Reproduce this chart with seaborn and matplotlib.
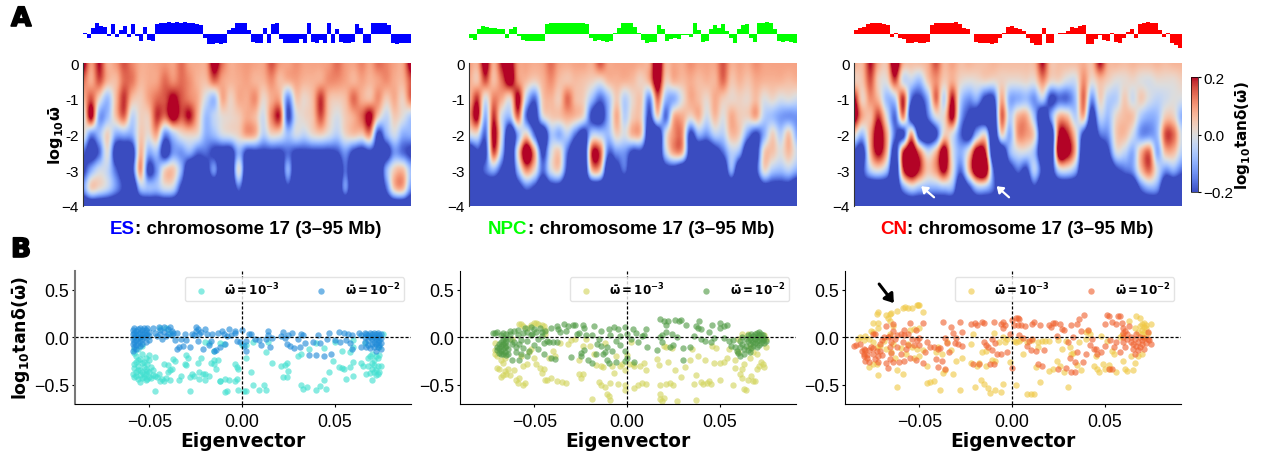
import numpy as np
import matplotlib
matplotlib.use('Agg')
import matplotlib.pyplot as plt
import matplotlib.patheffects as pe
import seaborn as sns

W, H = 1261, 452

# heatmap values in hundredths of log10 tan delta, rows go 0, -0.5, ... -4, 41 columns along the chromosome
# the colour scale clips at +-20, so saturated cells are only estimates
es_grid = [
    [24,10,20,8,10,16,12,8,8,9,10,9,14,9,8,9,24,14,8,9,10,9,9,16,10,9,11,9,9,9,10,14,10,9,12,9,14,12,9,9,24],
    [14,8,16,7,6,14,13,7,8,9,14,11,14,11,7,6,14,9,7,8,9,7,7,11,6,7,9,7,7,8,11,11,9,7,9,7,9,11,8,7,16],
    [6,16,2,-8,6,18,6,4,9,14,16,22,16,12,8,-2,-8,8,3,8,8,11,2,8,8,-14,4,2,6,18,6,4,6,14,8,6,11,4,8,3,14],
    [-3,22,-11,-8,5,14,-4,3,4,18,14,24,16,20,7,-8,-4,1,2,4,8,6,-2,12,18,-20,-2,2,5,16,4,-1,4,8,14,22,4,-4,4,0,-6],
    [2,-14,-8,3,-10,-10,-10,4,1,8,-14,-6,1,3,1,-10,-8,-2,0,3,9,7,-5,2,1,-8,-2,-4,1,3,-1,-5,2,5,4,10,-22,-10,-2,-10,-10],
    [-17,-26,-17,0,-26,-30,-26,7,-10,-8,-26,-13,-13,-10,-17,-17,-22,-26,-26,-10,-22,-22,-22,-22,-22,-17,-22,-22,-22,-22,-22,-20,-13,-22,-26,-22,-26,-26,-13,-17,-22],
    [-22,-10,-2,-4,-17,-26,-22,10,-22,-13,3,5,-10,-32,-32,-26,-13,-32,-32,0,-32,-32,-32,-32,-32,-10,-32,-32,-32,-32,-32,-32,-17,-32,-32,-32,-32,-10,4,6,-8],
    [-13,3,1,-4,-13,-22,-32,-8,-8,-8,-2,-4,-22,-32,-32,-32,-32,-32,-32,-17,-32,-32,-32,-32,-32,-22,-32,-32,-32,-32,-32,-32,-13,-32,-22,-32,-32,-17,5,7,-13],
    [-32]*41,
]
npc_grid = [
    [10,8,24,8,20,24,10,9,8,9,14,9,8,9,9,8,16,9,9,9,9,8,9,28,8,9,8,11,9,9,9,16,8,9,8,11,9,9,9,9,9],
    [8,5,16,6,14,24,11,6,3,7,11,6,5,6,5,3,1,6,7,7,6,3,8,26,4,7,6,8,6,7,7,14,5,7,5,8,7,7,7,6,7],
    [6,18,-1,12,8,2,22,-5,-17,4,7,4,14,6,3,-8,-17,-8,4,-5,2,4,-14,14,-8,-10,0,8,6,2,8,4,2,3,2,6,0,2,-1,0,-2],
    [9,22,-10,18,-2,-8,14,-17,-26,-2,4,5,8,6,0,-22,-26,-10,8,-5,4,3,-22,2,-17,7,8,2,7,-2,6,0,8,4,3,8,-5,-8,-12,-13,-13],
    [-2,0,-17,22,-2,-32,-10,3,-17,-32,-8,-10,-5,-17,-26,-5,-5,-8,3,-1,7,4,-32,-32,-2,11,11,-22,-10,-13,-5,-5,6,3,-13,-22,-10,3,-5,5,-10],
    [-32,-22,-22,16,-8,-32,2,28,9,-22,-2,4,-17,-32,-32,18,16,-17,-13,-13,-22,-22,-32,-32,-5,9,7,-26,-32,-32,-26,-17,-5,-10,-32,-26,3,5,0,6,-2],
    [-32,-26,-17,-10,-22,-32,-8,11,2,-17,-2,2,-22,-32,-32,6,5,-32,-26,-17,-32,-32,-32,-32,-26,-26,-32,-32,-32,-32,-32,-32,-10,-32,-32,-22,1,-6,-8,-5,-10],
    [-32,-32,-32,-32,-32,-32,-26,-17,-22,-32,-26,-26,-32,-32,-32,-32,-32,-32,-32,-32,-32,-32,-32,-32,-32,-32,-32,-32,-32,-32,-32,-32,-32,-32,-32,-32,-26,-26,-26,-26,-32],
    [-32]*41,
]
cn_grid = [
    [8,7,20,8,6,28,8,6,6,8,16,7,9,6,7,6,6,7,6,6,6,6,7,20,6,6,6,6,8,6,20,8,7,6,7,6,6,7,6,7,7],
    [4,5,16,3,1,16,-2,-4,-8,4,11,4,8,2,0,1,2,1,3,1,1,2,1,11,2,2,-2,-2,11,1,6,3,0,1,2,0,-1,1,1,1,3],
    [22,3,11,6,-8,-5,18,-17,-22,-10,14,-4,20,-5,-13,-10,-22,-22,8,-10,-10,-8,-13,-5,-22,-17,-17,-8,14,-13,3,-5,-5,4,-2,4,-1,-4,-2,0,-1],
    [26,9,6,18,0,-17,11,-26,-32,-17,-1,2,22,-10,-22,-26,-32,-32,14,-5,7,8,-8,-32,-13,7,6,-5,7,-26,-5,-8,2,6,5,-6,-10,-8,4,3,-10],
    [3,-8,9,26,9,-17,-22,9,-26,-32,-22,3,-1,-17,-26,-8,0,-32,2,-10,10,10,2,-32,-32,20,20,4,-22,-32,-17,-13,4,6,-2,-13,-13,-8,16,14,-2],
    [-22,-26,7,22,7,-26,18,30,13,-2,7,26,0,-10,2,26,20,-32,-32,-10,-2,-2,-8,-32,-32,26,24,7,-32,-32,-32,-22,-2,-4,-10,7,14,-10,6,6,-5],
    [-32,-22,-5,0,-8,-32,16,30,18,5,10,22,1,-17,6,30,30,-17,-32,-26,-17,-22,-5,-22,-26,-4,-2,-10,-32,-22,-32,-32,-22,-17,-13,5,14,-2,-13,-10,-17],
    [-32,-26,-32,-32,-32,-32,-13,-4,-8,-10,-10,-8,-10,-32,-22,-8,-8,-17,-32,-32,-32,-32,-22,-32,-32,-32,-32,-32,-32,-32,-32,-32,-32,-32,-32,-17,-10,-13,-32,-32,-32],
    [-32]*41,
]
freq_ticks = [0, -1, -2, -3, -4]
freq_labels = ['0', '-1', '-2', '-3', '\u22124']

# eigenvector tracks above the heatmaps (thousandths)
es_track = [10,-25,35,68,50,45,-12,60,-15,25,50,-15,60,-8,-40,45,-35,-40,62,68,70,72,70,72,70,72,68,70,62,55,-25,-58,-58,-55,-58,-52,25,35,70,70,68,25,-45,-55,-55,40,-55,60,70,-30,-55,-55,-50,-50,-30,-55,70,-45,-55,-35,-55,70,-50,30,-45,-55,-50,-45,60,40,-50,-55,65,70,68,70,55,-55,-58,-55,-55,-55]
npc_track = [-25,-35,30,50,45,35,40,30,30,-20,30,45,-10,-35,-40,-40,-38,-40,-42,60,65,68,70,68,70,65,70,66,68,60,-20,-40,-35,-40,-45,-40,10,40,65,70,65,45,5,-35,-50,-48,-45,55,30,-40,-30,-25,-30,-5,-5,-15,65,25,-45,-40,30,55,35,60,20,-20,-50,30,55,60,-25,-45,65,70,72,70,30,-40,-45,-40,-48,-50]
cn_track = [25,40,45,60,68,68,65,60,55,-15,10,-20,-30,-50,-50,-45,-50,-50,-45,55,65,70,65,68,70,72,60,35,30,3,-45,-50,-50,-50,-60,-50,-20,10,45,50,35,30,20,-20,-55,-65,-65,40,-55,-55,3,5,10,20,45,40,50,55,-60,-60,-30,-5,-35,-40,10,-45,-55,-20,15,30,-20,60,70,72,70,68,25,-15,5,-50,-65,-85]

# scatter points (eigenvector, log10 tan delta)
es_low = [(-.058,-.12),(-.057,-.2),(-.058,-.28),(-.058,-.32),(-.059,-.38),(-.058,-.42),(-.057,-.36),(-.056,-.3),(-.056,-.24),(-.056,-.44),(-.055,-.47),(-.055,-.4),(-.055,-.34),(-.054,-.27),(-.054,-.18),(-.054,-.43),(-.053,-.38),(-.053,-.31),(-.052,-.45),(-.052,-.22),(-.051,-.35),(-.051,-.28),(-.05,-.42),(-.05,-.19),(-.049,-.31),(-.048,-.4),(-.047,-.41),(-.047,-.21),(-.046,-.42),(-.045,-.39),(-.044,-.46),(-.043,-.44),(-.042,-.46),(-.041,-.43),(-.042,-.28),(-.04,-.29),(-.039,-.45),(-.038,-.33),(-.037,-.23),(-.036,-.25),(-.04,-.36),(-.039,-.34),(-.034,-.45),(-.033,-.41),(-.047,-.56),(-.031,-.28),(-.03,-.19),(-.03,-.29),(-.029,-.22),(-.028,-.42),(-.027,-.39),(-.028,-.56),(-.026,-.41),(-.024,-.27),(-.023,-.44),(-.023,-.36),(-.022,-.22),(-.021,-.38),(-.02,-.45),(-.02,-.38),(-.018,-.41),(-.017,-.27),(-.015,-.24),(-.015,-.28),(-.014,-.33),(-.013,-.24),(-.012,-.46),(-.012,-.46),(-.009,-.44),(-.009,-.57),(-.008,-.56),(-.007,-.45),(-.004,-.46),(-.003,-.44),(-.004,-.28),(-.003,-.31),(-.002,-.33),(-.002,-.55),(.001,-.56),(.002,-.56),(.002,-.22),(.005,-.36),(.006,-.5),(.009,-.55),(.012,-.5),(.013,-.55),(.016,-.27),(.021,-.3),(.022,-.42),(.023,-.29),(.024,-.27),(.024,-.42),(.025,-.35),(.03,-.2),(.032,-.5),(.033,-.54),(.035,-.52),(.04,-.55),(.042,-.51),(.044,-.45),(.045,-.54),(.047,-.36),(.049,-.25),(.052,-.31),(.054,-.32),(.055,-.33),(.056,-.44),(.058,-.31),(.06,-.41),(.06,-.26),(.064,-.27),(.065,-.3),(.067,-.39),(.069,-.37),(.07,-.33),(.07,-.45),(.071,-.29),(.072,-.4),(.073,-.22),(.074,-.36),(.075,-.3),(.074,-.19),(.072,-.34),(.068,-.22),(.07,-.18),(.074,-.1),(.076,.03),(.066,-.06),(-.02,-.05),(-.018,-.06),(-.012,-.06),(-.01,-.07),(-.015,-.14),(0,-.08),(.002,-.08),(.014,-.05),(.006,-.05),(.013,-.15),(.032,-.18),(.036,-.12),(.04,-.06),(.044,-.11),(.05,-.05),(.054,-.14),(.058,-.15),(.06,-.1),(.06,-.03),(-.058,-.16),(-.056,-.12),(-.054,-.09),(-.044,.1),(-.041,.1),(-.039,.05),(-.057,-.26),(-.057,-.41),(-.056,-.34),(-.055,-.23),(-.054,-.36),(-.053,-.42),(-.053,-.26),(-.052,-.33),(-.052,-.39),(-.051,-.44),(-.05,-.24),(-.05,-.36),(-.049,-.43),(-.048,-.34),(.071,-.36),(.071,-.24),(.072,-.2),(.073,-.3),(.073,-.38),(.07,-.27),(.069,-.2),(.068,-.3)]
es_high = [(-.059,.08),(-.059,.03),(-.059,-.02),(-.059,-.07),(-.059,-.14),(-.058,.1),(-.058,.05),(-.058,0),(-.058,-.05),(-.058,-.1),(-.057,.07),(-.057,.02),(-.057,-.03),(-.057,-.08),(-.057,-.12),(-.056,.09),(-.056,.04),(-.056,-.01),(-.056,-.06),(-.055,.1),(-.055,.05),(-.055,0),(-.055,-.04),(-.055,-.09),(-.054,.08),(-.054,.03),(-.054,-.02),(-.054,-.07),(-.053,.1),(-.053,.05),(-.053,0),(-.052,.08),(-.052,.02),(-.052,-.05),(-.051,.1),(-.051,.04),(-.05,.06),(-.05,.01),(-.05,-.03),(-.048,.1),(-.047,.05),(-.046,.01),(-.045,.11),(-.044,.08),(-.044,.03),(-.043,-.02),(-.042,.11),(-.042,.06),(-.041,.01),(-.04,.09),(-.04,.04),(-.039,.11),(-.038,.07),(-.038,.02),(-.037,.05),(-.036,-.03),(-.035,.05),(-.035,-.12),(-.034,-.1),(-.033,-.02),(-.032,-.09),(-.031,.04),(-.03,-.03),(-.028,-.1),(-.027,.04),(-.026,.02),(-.025,.11),(-.025,.07),(-.024,.09),(-.024,-.04),(-.023,.03),(-.022,.06),(-.021,-.12),(-.02,.09),(-.019,.04),(-.018,-.08),(-.017,-.04),(-.016,.04),(-.015,-.14),(-.014,-.13),(-.013,.05),(-.012,-.1),(-.011,.07),(-.01,.03),(-.009,-.07),(-.008,.01),(-.007,.09),(-.006,.02),(-.004,.07),(-.004,.05),(-.003,-.04),(-.001,-.05),(0,.08),(.001,-.09),(.002,-.04),(.002,-.14),(.004,.04),(.005,.03),(.007,-.02),(.009,-.03),(.01,-.08),(.013,-.02),(.014,.07),(.014,.02),(.015,-.1),(.016,-.01),(.021,.01),(.022,.06),(.023,-.01),(.024,-.07),(.025,.02),(.026,-.09),(.027,.05),(.028,-.11),(.03,-.02),(.031,-.1),(.032,.03),(.033,.02),(.034,-.06),(.036,-.19),(.038,-.05),(.04,-.19),(.041,.02),(.042,-.06),(.044,-.2),(.046,-.02),(.047,.05),(.048,-.18),(.05,-.03),(.052,.06),(.053,-.05),(.055,.05),(.056,-.03),(.057,.04),(.058,-.06),(.059,.02),(.059,-.12),(.063,.05),(.064,-.1),(.064,.02),(.066,.05),(.066,0),(.066,-.05),(.067,-.1),(.067,.03),(.068,.02),(.068,-.03),(.068,-.08),(.069,.05),(.069,0),(.069,-.11),(.07,.03),(.07,-.02),(.07,-.07),(.071,.05),(.071,0),(.071,-.05),(.071,-.1),(.072,.03),(.072,-.02),(.072,-.07),(.072,-.14),(.073,.05),(.073,0),(.073,-.05),(.073,-.1),(.074,.02),(.074,-.03),(.074,-.08),(.075,.04),(.075,-.01),(.075,-.06),(.075,-.12)]
npc_low = [(-.058,.14),(-.057,.14),(-.056,.12),(-.054,.1),(-.052,.13),(-.05,.15),(-.049,.15),(-.048,.14),(-.046,.13),(-.045,.12),(-.044,.08),(-.044,.03),(-.071,-.06),(-.071,-.13),(-.071,-.18),(-.07,-.2),(-.07,-.32),(-.069,-.33),(-.068,-.24),(-.068,-.42),(-.067,-.4),(-.067,-.27),(-.066,-.22),(-.066,-.35),(-.065,-.39),(-.064,-.33),(-.063,-.4),(-.062,-.02),(-.061,-.34),(-.06,-.45),(-.059,-.48),(-.058,-.43),(-.057,-.2),(-.056,-.3),(-.056,-.5),(-.055,-.48),(-.054,-.28),(-.053,-.15),(-.052,-.12),(-.05,-.22),(-.049,-.28),(-.047,-.32),(-.046,-.37),(-.045,-.33),(-.044,-.45),(-.043,-.45),(-.042,-.22),(-.041,-.43),(-.04,-.14),(-.039,-.2),(-.038,-.46),(-.036,-.06),(-.035,-.47),(-.033,-.48),(-.032,-.07),(-.03,-.03),(-.028,-.02),(-.026,-.24),(-.026,-.38),(-.025,-.43),(-.024,-.38),(-.024,-.09),(-.022,-.02),(-.02,-.09),(-.019,-.65),(-.018,-.18),(-.017,-.29),(-.015,-.47),(-.014,-.3),(-.014,-.5),(-.013,-.31),(-.012,-.06),(-.012,-.52),(-.011,-.6),(-.01,-.62),(-.009,-.66),(-.009,-.48),(-.008,-.3),(-.007,-.37),(-.006,-.2),(-.005,-.49),(-.004,-.3),(-.003,-.28),(-.001,-.34),(-.001,-.5),(-.001,-.55),(0,-.19),(.001,-.28),(.002,-.05),(.003,-.28),(.004,-.3),(.004,-.53),(.006,-.5),(.007,-.3),(.008,-.48),(.009,-.27),(.01,-.49),(.01,-.34),(.016,-.23),(.017,-.29),(.018,-.65),(.018,-.6),(.018,-.5),(.019,-.67),(.02,-.09),(.02,-.64),(.021,-.49),(.021,-.1),(.022,-.26),(.023,-.48),(.024,-.11),(.025,-.5),(.026,-.34),(.027,-.67),(.029,-.42),(.031,-.31),(.034,-.24),(.035,-.12),(.036,-.49),(.037,-.66),(.037,-.4),(.038,-.2),(.04,-.47),(.041,-.49),(.042,-.24),(.043,-.48),(.044,-.46),(.045,-.49),(.046,-.09),(.047,-.27),(.048,-.11),(.05,-.27),(.05,-.45),(.052,-.26),(.054,-.22),(.055,-.12),(.057,-.5),(.058,-.24),(.058,-.32),(.06,-.15),(.061,-.39),(.062,-.33),(.062,-.43),(.063,-.54),(.063,-.28),(.064,-.55),(.065,-.45),(.066,-.22),(.067,-.41),(.068,-.46),(.069,-.46),(.07,-.33),(.071,-.3),(.072,-.26),(.073,-.28),(.074,-.31),(.075,-.1),(.075,-.02),(.074,.02),(.065,.03),(.062,.03),(.066,-.1),(.068,-.15),(.07,-.18),(.06,-.02)]
npc_high = [(-.072,.05),(-.071,.05),(-.07,.06),(-.07,-.1),(-.07,-.13),(-.069,-.07),(-.069,-.11),(-.069,-.16),(-.068,.02),(-.068,-.05),(-.068,-.09),(-.068,-.14),(-.068,-.17),(-.067,.05),(-.067,-.03),(-.067,-.07),(-.067,-.12),(-.067,-.18),(-.066,-.01),(-.066,-.06),(-.066,-.1),(-.066,-.15),(-.065,.04),(-.065,-.04),(-.065,-.09),(-.065,-.19),(-.064,-.12),(-.064,-.17),(-.063,.07),(-.063,.03),(-.063,-.02),(-.062,-.07),(-.062,-.24),(-.061,.07),(-.061,-.05),(-.06,-.1),(-.06,-.15),(-.059,.08),(-.059,.02),(-.058,-.24),(-.058,-.07),(-.057,-.03),(-.057,-.17),(-.056,-.11),(-.056,.05),(-.055,.1),(-.054,.06),(-.054,-.04),(-.054,-.2),(-.053,-.14),(-.052,.11),(-.052,.02),(-.051,.04),(-.05,.09),(-.05,-.08),(-.049,.06),(-.048,-.12),(-.048,-.02),(-.047,.1),(-.046,.01),(-.046,.06),(-.045,-.17),(-.045,-.06),(-.044,.07),(-.043,-.04),(-.042,-.05),(-.041,.1),(-.041,-.22),(-.04,-.05),(-.039,-.23),(-.038,.12),(-.038,-.05),(-.037,.09),(-.036,.06),(-.034,.14),(-.033,.07),(-.032,.12),(-.03,-.21),(-.029,.13),(-.028,.13),(-.027,.04),(-.026,.05),(-.025,-.2),(-.025,-.16),(-.024,.13),(-.023,.1),(-.023,-.13),(-.022,.02),(-.021,-.24),(-.019,.02),(-.019,-.27),(-.018,.12),(-.017,-.18),(-.016,-.07),(-.015,-.02),(-.014,.07),(-.014,-.09),(-.013,-.18),(-.012,-.15),(-.011,-.24),(-.011,-.1),(-.01,.09),(-.01,-.27),(-.009,.02),(-.008,-.14),(-.007,.11),(-.006,-.26),(-.006,-.04),(-.005,.09),(-.004,.01),(-.004,-.08),(-.001,.11),(-.001,-.14),(-.001,-.25),(0,.03),(0,-.22),(.002,-.02),(.003,.09),(.004,-.26),(.005,.05),(.006,-.05),(.008,.01),(.009,.02),(.01,.09),(.011,-.1),(.016,-.13),(.018,.19),(.018,0),(.019,-.05),(.019,.02),(.02,.17),(.021,.13),(.021,.06),(.022,.17),(.023,-.1),(.024,.03),(.025,-.08),(.026,.18),(.027,0),(.028,.17),(.029,.18),(.03,-.24),(.03,-.11),(.032,.13),(.034,-.1),(.036,.01),(.037,.12),(.038,.1),(.039,.17),(.04,-.02),(.04,.09),(.042,-.04),(.044,.06),(.045,-.05),(.046,.13),(.047,-.01),(.05,.15),(.05,.1),(.052,.12),(.052,-.01),(.054,.13),(.055,-.04),(.056,-.09),(.057,-.03),(.058,-.1),(.059,-.14),(.06,-.16),(.061,-.04),(.061,-.1),(.061,-.2),(.062,0),(.062,-.07),(.063,-.12),(.063,-.18),(.064,-.02),(.064,-.09),(.065,.02),(.065,-.04),(.065,-.13),(.066,-.01),(.066,-.07),(.066,-.15),(.067,.03),(.067,-.03),(.067,-.11),(.068,.01),(.068,-.05),(.068,-.09),(.069,.04),(.069,-.02),(.069,-.06),(.07,.05),(.07,0),(.07,-.04),(.07,-.1),(.071,.06),(.071,.02),(.071,-.03),(.071,-.08),(.072,.03),(.072,-.01),(.072,-.06),(.073,.02),(.073,-.03),(.074,-.01),(.074,-.06),(.075,-.04)]
cn_low = [(-.073,.245),(-.072,.27),(-.068,.235),(-.066,.245),(-.065,.26),(-.062,.28),(-.059,.31),(-.0575,.315),(-.056,.31),(-.054,.31),(-.051,.34),(-.0505,.34),(-.05,.34),(-.048,.27),(-.075,.15),(-.072,.15),(-.072,.1),(-.076,.07),(-.075,.06),(-.067,.2),(-.066,.17),(-.064,.12),(-.055,.08),(-.053,.09),(-.05,.1),(-.083,-.02),(-.082,0),(-.08,-.03),(-.079,.01),(-.077,-.02),(-.075,-.05),(-.073,-.1),(-.071,-.09),(-.069,-.04),(-.068,-.12),(-.066,.03),(-.065,-.15),(-.064,-.07),(-.063,-.22),(-.062,-.34),(-.06,-.11),(-.059,-.38),(-.057,-.18),(-.056,-.07),(-.054,-.1),(-.053,-.22),(-.051,-.12),(-.05,-.2),(-.048,-.13),(-.077,-.31),(-.075,-.28),(-.073,-.28),(-.072,-.4),(-.062,-.52),(-.046,-.3),(-.046,-.48),(-.044,-.47),(-.042,-.46),(-.041,-.15),(-.04,-.1),(-.039,-.55),(-.038,-.17),(-.037,-.37),(-.036,-.34),(-.035,-.05),(-.033,-.13),(-.032,-.39),(-.03,-.25),(-.028,-.55),(-.027,-.22),(-.022,-.27),(-.022,-.07),(-.021,.03),(-.02,-.52),(-.019,-.3),(-.018,-.27),(-.017,-.45),(-.016,-.15),(-.015,-.49),(-.014,-.14),(-.014,-.3),(-.013,-.53),(-.012,-.58),(-.011,-.24),(-.01,.05),(-.009,-.55),(-.009,-.25),(-.007,-.05),(-.006,-.57),(-.005,-.49),(-.005,0),(-.004,-.05),(-.003,-.02),(-.001,-.26),(.001,-.04),(.002,-.5),(.002,-.05),(.004,-.04),(.005,-.02),(.006,-.17),(.008,-.05),(.008,-.6),(.01,-.6),(.011,-.03),(.012,-.59),(.013,-.31),(.014,-.05),(.014,-.1),(.015,-.47),(.016,-.04),(.018,-.04),(.02,-.04),(.02,-.35),(.022,-.33),(.024,-.25),(.025,-.03),(.026,-.3),(.027,-.12),(.028,-.36),(.029,-.04),(.03,-.52),(.031,-.1),(.032,-.18),(.033,-.16),(.035,-.29),(.036,-.05),(.037,-.34),(.04,-.02),(.04,.06),(.041,.07),(.042,.04),(.044,-.3),(.045,-.2),(.046,-.33),(.047,-.36),(.048,.01),(.049,-.28),(.05,-.33),(.051,-.04),(.052,-.29),(.053,-.33),(.054,-.14),(.055,-.18),(.056,-.36),(.058,0),(.059,.02),(.06,-.25),(.061,-.33),(.062,-.35),(.063,.17),(.064,-.2),(.065,-.34),(.066,.1),(.066,-.27),(.067,.22),(.068,.06),(.068,-.2),(.069,.2),(.069,.12),(.07,.14),(.07,.08),(.07,-.18),(.07,.03),(.071,.15),(.071,.11),(.071,.06),(.071,0),(.072,.1),(.072,.13),(.075,.14),(.073,.05)]
cn_high = [(-.085,-.09),(-.084,-.08),(-.082,-.07),(-.081,-.14),(-.08,-.12),(-.08,-.18),(-.08,-.2),(-.079,-.13),(-.079,-.25),(-.078,-.19),(-.078,-.22),(-.077,-.26),(-.077,-.13),(-.076,-.1),(-.075,-.17),(-.075,-.11),(-.075,.03),(-.074,-.23),(-.074,.04),(-.073,-.14),(-.072,-.2),(-.072,-.26),(-.071,-.07),(-.071,-.14),(-.07,-.19),(-.07,-.03),(-.069,0),(-.068,-.27),(-.068,.12),(-.067,0),(-.067,-.32),(-.066,-.23),(-.066,-.1),(-.066,.01),(-.065,-.16),(-.065,-.05),(-.064,.14),(-.064,-.26),(-.064,.07),(-.063,-.02),(-.062,.02),(-.062,-.1),(-.061,-.26),(-.06,.04),(-.06,-.17),(-.059,-.05),(-.058,.08),(-.058,-.25),(-.058,.02),(-.057,-.12),(-.056,-.08),(-.056,.03),(-.055,-.22),(-.055,.15),(-.054,-.02),(-.053,-.08),(-.052,-.24),(-.052,.08),(-.051,-.03),(-.05,-.01),(-.05,-.08),(-.048,.15),(-.048,-.27),(-.047,-.15),(-.046,-.05),(-.044,-.1),(-.042,-.1),(-.041,-.23),(-.04,-.12),(-.04,-.31),(-.039,-.11),(-.038,-.25),(-.037,.16),(-.036,-.01),(-.036,-.33),(-.035,-.06),(-.034,-.15),(-.033,.11),(-.032,.05),(-.031,-.06),(-.03,-.01),(-.029,-.07),(-.028,.16),(-.027,.06),(-.027,-.09),(-.022,.14),(-.021,-.28),(-.02,.15),(-.019,.13),(-.018,-.28),(-.016,.16),(-.015,.15),(-.015,-.05),(-.014,-.08),(-.013,-.1),(-.012,-.28),(-.011,-.02),(-.011,-.13),(-.01,-.28),(-.01,.16),(-.009,-.06),(-.008,-.18),(-.006,.14),(-.006,-.17),(-.005,.16),(-.005,.1),(-.004,.13),(-.003,-.15),(-.001,.04),(0,.18),(0,-.32),(.001,.13),(.002,.2),(.003,.2),(.003,.13),(.004,.19),(.004,.02),(.005,.13),(.006,-.01),(.007,.12),(.008,-.09),(.009,-.04),(.01,-.13),(.011,.14),(.011,-.02),(.012,.16),(.013,-.14),(.014,-.28),(.015,.13),(.016,-.3),(.017,-.13),(.02,.13),(.021,.11),(.022,.15),(.023,.15),(.024,.01),(.025,-.33),(.026,.14),(.027,.09),(.028,.08),(.029,-.32),(.03,-.05),(.031,-.22),(.032,.13),(.032,-.36),(.033,0),(.034,-.36),(.034,-.26),(.035,.14),(.035,-.15),(.036,.19),(.037,.07),(.038,-.26),(.039,.23),(.04,-.18),(.041,.08),(.042,-.08),(.043,-.02),(.044,-.12),(.045,-.12),(.046,-.18),(.048,-.15),(.05,.14),(.05,-.09),(.051,.23),(.052,.22),(.052,-.33),(.053,-.03),(.054,.16),(.054,-.33),(.055,-.1),(.056,.14),(.056,-.05),(.057,.22),(.058,.22),(.058,-.15),(.059,.15),(.06,.1),(.06,.05),(.06,0),(.06,-.05),(.061,.07),(.061,-.1),(.062,-.02),(.062,.03),(.063,.12),(.064,-.05),(.064,0),(.065,-.07),(.065,-.12),(.066,-.02),(.066,-.17),(.067,.04),(.067,-.09),(.068,-.05),(.068,-.13),(.069,0),(.069,-.1),(.07,-.03),(.07,-.07),(.071,-.01),(.071,-.12),(.072,-.06),(.073,-.02),(.073,.06),(.074,-.03),(.075,-.07)]

cells = ['ES', 'NPC', 'CN']
cell_colors = ['#0000ff', '#00ff00', '#ff0000']
grids = [es_grid, npc_grid, cn_grid]
tracks = [es_track, npc_track, cn_track]
low_points = [es_low, npc_low, cn_low]
high_points = [es_high, npc_high, cn_high]
low_colors = ['#40e0d0', '#d2d45c', '#f0c845']
high_colors = ['#1f8ad8', '#4f9a44', '#f0622f']
title_text = ': chromosome 17 (3\u201395 Mb)'
tan_label = r'$\mathbf{log_{10}tan\delta(\bar{\omega})}$'

sns.set_style('white')
plt.rcParams['font.family'] = ['Liberation Sans', 'DejaVu Sans']
plt.rcParams['mathtext.fontset'] = 'dejavusans'
plt.rcParams['text.color'] = 'black'
plt.rcParams['axes.labelcolor'] = 'black'
plt.rcParams['xtick.color'] = 'black'
plt.rcParams['ytick.color'] = 'black'
plt.rcParams['axes.edgecolor'] = 'black'
BOLD = 'DejaVu Sans'


def px_axes(left, top, right, bottom):
    return fig.add_axes([left / W, 1 - bottom / H, (right - left) / W, (bottom - top) / H])


fig = plt.figure(figsize=(W / 100, H / 100), dpi=100)

heat_left = [83, 469, 854]
scat_left = [75, 460, 845]
title_x = [110, 488, 880]

for i, cell in enumerate(cells):
    l = heat_left[i]

    # eigenvector track
    ax = px_axes(l, 22.7, l + 328, 50.5)
    sns.barplot(x=np.arange(len(tracks[i])), y=tracks[i], color=cell_colors[i], saturation=1, width=1,
                linewidth=0, ax=ax)
    ax.set_xlim(-.5, len(tracks[i]) - .5)
    ax.set_ylim(-92, 75)
    ax.axis('off')

    # heatmap, smoothed at draw time
    heat = px_axes(l, 64, l + 328, 207)
    grid = np.array(grids[i]) / 100
    im = heat.imshow(grid, cmap='coolwarm', vmin=-.2, vmax=.2, aspect='auto', interpolation='catrom',
                     extent=(-.5, 40.5, -4.25, .25))
    heat.set_xlim(0, 40)
    heat.set_ylim(-4, 0)
    heat.set_xticks([])
    heat.set_yticks(freq_ticks, freq_labels)
    heat.tick_params(axis='y', labelsize=11, length=0, pad=3)
    sns.despine(ax=heat, top=True, right=True, bottom=True)
    heat.spines['left'].set_linewidth(.8)
    heat.spines['left'].set_color('#333333')
    if i == 0:
        heat.set_ylabel(r'$\mathbf{log_{10}\bar{\omega}}$', fontsize=11.5, family=BOLD, labelpad=-3)

    # title in two colours
    t = fig.text(title_x[i] / W, 1 - 234 / H, cell, color=cell_colors[i], fontsize=13.5, fontweight='bold')
    heat.annotate(title_text, xy=(1, 0), xycoords=t, va='bottom', ha='left', fontsize=13.5, fontweight='bold')

    # scatter panel
    ax = px_axes(scat_left[i], 271.7, scat_left[i] + 336, 405)
    low = np.array(low_points[i])
    high = np.array(high_points[i])
    sns.scatterplot(x=low[:, 0], y=low[:, 1], color=low_colors[i], alpha=.62, s=21, linewidth=0,
                    label=r'$\mathbf{\bar{\omega}=10^{-3}}$', ax=ax)
    sns.scatterplot(x=high[:, 0], y=high[:, 1], color=high_colors[i], alpha=.62, s=21, linewidth=0,
                    label=r'$\mathbf{\bar{\omega}=10^{-2}}$', ax=ax)
    ax.axhline(0, color='black', ls='--', lw=.9, dashes=(2.5, 1.5))
    ax.axvline(0, color='black', ls='--', lw=.9, dashes=(2.5, 1.5))
    ax.set_xlim(-.09, .091)
    ax.set_ylim(-.7, .7)
    ax.set_xticks([-.05, 0, .05], ['\u22120.05', '0.00', '0.05'])
    ax.set_yticks([-.5, 0, .5], ['\u22120.5', '0.0', '0.5'])
    ax.tick_params(labelsize=12.8, length=2, left=True, bottom=True)
    ax.tick_params(axis='x', pad=4.5)
    ax.tick_params(axis='y', pad=2)
    ax.set_xlabel('Eigenvector', fontsize=13.4, fontweight='bold', family=BOLD, labelpad=1)
    sns.despine(ax=ax)
    if i == 0:
        ax.set_ylabel(tan_label, fontsize=12.5, family=BOLD, labelpad=1)
        ax.spines['left'].set_color('#777777')
        ax.spines['left'].set_linewidth(1.5)
    leg = ax.legend(ncol=2, loc='upper right', bbox_to_anchor=(.98, .95), borderaxespad=0, fontsize=8.6,
                    columnspacing=2.45, handletextpad=1.0, borderpad=.3, markerscale=1, frameon=True)
    leg.get_frame().set_alpha(.8)
    leg.get_frame().set_edgecolor('#dddddd')
    if i == 2:
        ax.annotate('', xy=(-.0637, .36), xytext=(-.0716, .56),
                    arrowprops=dict(arrowstyle='-|>,head_width=.35,head_length=.5', color='black', lw=2.2,
                                    shrinkA=0, shrinkB=0))

    # white arrows and colorbar on the CN heatmap
    if i == 2:
        for tail, tip in [((.244, .061), (.205, .138)), ((.4726, .061), (.435, .138))]:
            heat.annotate('', xy=tip, xytext=tail, xycoords='axes fraction', textcoords='axes fraction',
                          arrowprops=dict(arrowstyle='-|>,head_width=.25,head_length=.35', color='white', lw=1.6,
                                          shrinkA=0, shrinkB=0))
        cax = px_axes(1191, 78, 1198, 193)
        cb = fig.colorbar(im, cax=cax, ticks=[-.2, 0, .2])
        cb.ax.set_yticklabels(['\u22120.2', '0.0', '0.2'])
        cb.ax.tick_params(labelsize=11, length=2, pad=2)
        cb.outline.set_linewidth(.5)
        fig.text(1243 / W, 1 - 136 / H, tan_label, rotation=90, ha='center', va='center', fontsize=11, family=BOLD)

# panel letters
for letter, y in [('A', 27), ('B', 258)]:
    fig.text(11 / W, 1 - y / H, letter, fontsize=19, fontweight='bold', family=BOLD,
             path_effects=[pe.withStroke(linewidth=1.2, foreground='black')])

fig.savefig('out.png', dpi=100)
